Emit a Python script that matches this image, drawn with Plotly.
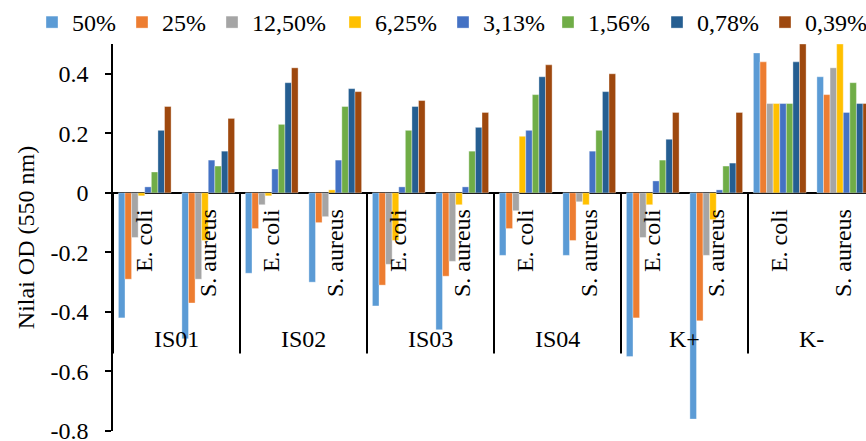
import plotly.graph_objects as go

groups = ["IS01", "IS02", "IS03", "IS04", "K+", "K-"]
bacteria = ["E. coli", "S. aureus"]
series_names = ["50%", "25%", "12,50%", "6,25%", "3,13%", "1,56%", "0,78%", "0,39%"]
colors = ["#5B9BD5", "#ED7D31", "#A5A5A5", "#FFC000", "#4472C4", "#70AD47", "#255E91", "#9E480E"]

# order: IS01 Ec, IS01 Sa, IS02 Ec, IS02 Sa, IS03 Ec, IS03 Sa, IS04 Ec, IS04 Sa, K+ Ec, K+ Sa, K- Ec, K- Sa
v50 = [-0.42, -0.49, -0.27, -0.30, -0.38, -0.46, -0.21, -0.21, -0.55, -0.76, 0.47, 0.39]
v25 = [-0.29, -0.37, -0.12, -0.10, -0.31, -0.28, -0.12, -0.16, -0.42, -0.43, 0.44, 0.33]
v12 = [-0.15, -0.29, -0.04, -0.08, -0.24, -0.23, -0.06, -0.03, -0.15, -0.21, 0.30, 0.42]
v6 = [-0.01, -0.16, -0.01, 0.01, -0.16, -0.04, 0.19, -0.04, -0.04, -0.09, 0.30, 0.50]
v3 = [0.02, 0.11, 0.08, 0.11, 0.02, 0.02, 0.21, 0.14, 0.04, 0.01, 0.30, 0.27]
v1 = [0.07, 0.09, 0.23, 0.29, 0.21, 0.14, 0.33, 0.21, 0.11, 0.09, 0.30, 0.37]
v07 = [0.21, 0.14, 0.37, 0.35, 0.29, 0.22, 0.39, 0.34, 0.18, 0.10, 0.44, 0.30]
v03 = [0.29, 0.25, 0.42, 0.34, 0.31, 0.27, 0.43, 0.40, 0.27, 0.27, 0.50, 0.30]
series_values = [v50, v25, v12, v6, v3, v1, v07, v03]

tick_vals = [-0.8, -0.6, -0.4, -0.2, 0, 0.2, 0.4]
tick_text = ["-0.8", "-0.6", "-0.4", "-0.2", "0", "0.2", "0.4"]

# legend entry positions (px from left) of each swatch centre, as in the reference
legend_px = [56, 146, 236, 359, 467, 572, 681, 789]

FONT = "Liberation Serif"
FS = 24
W, H = 866, 441

n_sub = len(groups) * len(bacteria)
xpos = list(range(n_sub))

fig = go.Figure()
legend_layouts = {}
for k, (name, col, vals) in enumerate(zip(series_names, colors, series_values)):
    lname = "legend" if k == 0 else f"legend{k + 1}"
    fig.add_trace(go.Bar(
        x=xpos, y=vals, name=name, legend=lname,
        marker=dict(color=col, line=dict(color="rgba(255,255,255,0.6)", width=0.6)),
        hoverinfo="skip",
    ))
    legend_layouts[lname] = dict(
        orientation="h", xref="container", yref="container",
        x=(legend_px[k] - 24) / W, y=1 - 22.5 / H,
        xanchor="left", yanchor="middle",
        font=dict(family=FONT, size=FS, color="black"),
        itemwidth=30, bgcolor="rgba(0,0,0,0)",
    )

annotations = []
for i in range(n_sub):
    annotations.append(dict(
        x=i, y=0, xref="x", yref="y", text=bacteria[i % 2],
        textangle=-90, showarrow=False, xanchor="center", yanchor="top",
        yshift=-14, font=dict(family=FONT, size=FS, color="black"),
    ))
for g, gname in enumerate(groups):
    annotations.append(dict(
        x=2 * g + 0.5, y=-0.49, xref="x", yref="y", text=gname,
        showarrow=False, xanchor="center", yanchor="middle",
        font=dict(family=FONT, size=FS, color="black"),
    ))

shapes = []
for g in range(len(groups)):
    shapes.append(dict(
        type="line", xref="x", yref="y", x0=2 * g - 0.5, x1=2 * g - 0.5,
        y0=0, y1=-0.54, line=dict(color="black", width=2),
    ))

fig.update_layout(
    width=W, height=H,
    margin=dict(l=113, r=0, t=44, b=10, autoexpand=False),
    paper_bgcolor="white", plot_bgcolor="white",
    barmode="group", bargap=0.17, bargroupgap=0,
    font=dict(family=FONT, size=FS, color="black"),
    showlegend=True,
    annotations=annotations,
    shapes=shapes,
    xaxis=dict(
        range=[-0.5, -0.5 + (W - 113) / 63.5],
        showticklabels=False, showgrid=False, zeroline=False,
        showline=False, ticks="", fixedrange=True,
    ),
    yaxis=dict(
        range=[-0.8, 0.5], tickvals=tick_vals, ticktext=tick_text,
        showgrid=False, zeroline=True, zerolinecolor="black", zerolinewidth=2,
        showline=True, linecolor="black", linewidth=1.5,
        ticks="outside", ticklen=6, tickcolor="black", tickwidth=1.5,
        ticklabelstandoff=12, ticklabeloverflow="allow",
        tickfont=dict(family=FONT, size=FS, color="black"),
        title=dict(text="Nilai OD (550 nm)", standoff=9,
                   font=dict(family=FONT, size=FS, color="black")),
        fixedrange=True,
    ),
    **legend_layouts,
)

fig.write_html("out.html")
